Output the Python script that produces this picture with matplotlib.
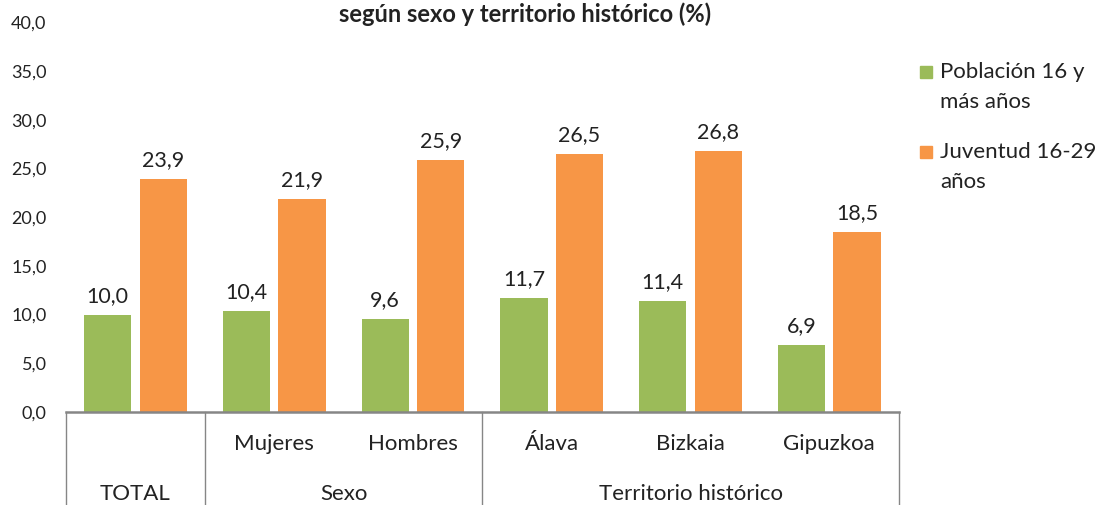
import matplotlib.pyplot as plt
from matplotlib.patches import Rectangle
import numpy as np

plt.rcParams['font.family'] = ['Lato', 'DejaVu Sans']

# Data
categories = ['', 'Mujeres', 'Hombres', 'Álava', 'Bizkaia', 'Gipuzkoa']
groups = ['TOTAL', 'Sexo', 'Territorio histórico']
group_spans = [(0, 0), (1, 2), (3, 5)]
poblacion = [10.0, 10.4, 9.6, 11.7, 11.4, 6.9]
juventud = [23.9, 21.9, 25.9, 26.5, 26.8, 18.5]
series_names = ['Población 16 y\nmás años', 'Juventud 16-29\naños']
title = 'según sexo y territorio histórico (%)'

green = '#9BBB59'
orange = '#F79646'
line_col = '#868686'
txt = '#222222'

fig = plt.figure(figsize=(11, 5.05), dpi=100)
ax = fig.add_axes([0.06, 0.184, 0.757, 0.772])

x = np.arange(len(categories))
w = 0.34
b1 = ax.bar(x - 0.2, poblacion, w, color=green, label=series_names[0])
b2 = ax.bar(x + 0.2, juventud, w, color=orange, label=series_names[1])

for bars, vals in [(b1, poblacion), (b2, juventud)]:
    for bar, v in zip(bars, vals):
        ax.text(bar.get_x() + bar.get_width() / 2, v + 0.9,
                f'{v:.1f}'.replace('.', ','), ha='center', va='bottom',
                fontsize=15.5, color=txt)

ax.set_xlim(-0.5, len(categories) - 0.5)
ax.set_ylim(0, 40)
ax.set_yticks(np.arange(0, 41, 5))
ax.set_yticklabels([f'{v:.1f}'.replace('.', ',') for v in np.arange(0, 41, 5)],
                   fontsize=13, color=txt)
ax.tick_params(axis='y', length=0, pad=14)
ax.set_xticks([])
for s in ['top', 'right', 'left']:
    ax.spines[s].set_visible(False)
ax.spines['bottom'].set_color(line_col)
ax.spines['bottom'].set_linewidth(1.8)

# hierarchical category axis
trans = ax.get_xaxis_transform()
bottom = -0.24
for xs in [-0.5, 0.5, 2.5, 5.5]:
    ax.plot([xs, xs], [0, bottom], transform=trans, color=line_col,
            lw=1, clip_on=False)
for i, c in enumerate(categories):
    if c:
        ax.text(i, -0.082, c, transform=trans, ha='center', va='center',
                fontsize=16, color=txt)
for g, (a, b) in zip(groups, group_spans):
    ax.text((a + b) / 2, -0.21, g, transform=trans, ha='center', va='center',
            fontsize=16, color=txt)

fig.text(0.477, 0.957, title, ha='center', va='baseline', fontsize=17,
         fontweight='bold', color=txt)

# legend drawn by hand to match the line spacing
W, H = 1100, 505
for name, col, yc in zip(series_names, [green, orange], [72, 152]):
    fig.patches.append(Rectangle((920 / W, 1 - (yc + 6) / H), 12 / W, 12 / H,
                                 transform=fig.transFigure, color=col))
    fig.text(940 / W, 1 - (yc - 10) / H, name, ha='left', va='top',
             fontsize=16, color=txt, linespacing=1.6)

fig.savefig('out.png', dpi=100)
